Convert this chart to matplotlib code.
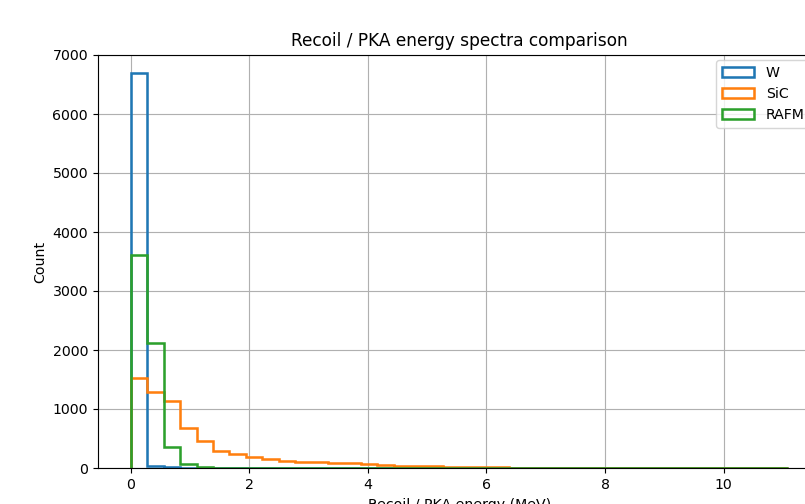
import numpy as np
import matplotlib
matplotlib.use("Agg")
import matplotlib.pyplot as plt

# 40 bins from 0 to the max recoil energy (MeV)
e_max = 11.09
n_bins = 40

w_counts = [6690, 32, 12, 3] + [0] * 36

sic_counts = [1520, 1280, 1130, 680, 450, 295, 245, 190, 150, 120,
              100, 95, 88, 82, 76, 45, 40, 32, 28, 18,
              15, 12, 10, 8, 6, 5, 4, 3, 3, 2,
              2, 2, 1, 1, 1, 1, 1, 0, 0, 0]

rafm_counts = [3610, 2120, 350, 65, 14, 6, 5, 4, 4, 3,
               3, 3, 3, 3, 3, 3, 3, 3, 3, 3,
               3, 3, 3, 3, 4, 4, 4, 3, 3, 3,
               3, 3, 4, 4, 4, 4, 4, 3, 3, 0]

labels = ["W", "SiC", "RAFM"]

edges = np.linspace(0, e_max, n_bins + 1)
centers = 0.5 * (edges[:-1] + edges[1:])

dpi = 102
fig = plt.figure(figsize=(805 / dpi, 504 / dpi), dpi=dpi)
ax = fig.add_axes([98 / 805, 36 / 504, 723 / 805, 413 / 504])

for counts, lab in zip([w_counts, sic_counts, rafm_counts], labels):
    ax.hist(centers, bins=edges, weights=counts, histtype="step", linewidth=1.8, label=lab)

ax.set_ylim(0, 7000)
ax.set_xlabel("Recoil / PKA energy (MeV)")
ax.set_ylabel("Count")
ax.set_title("Recoil / PKA energy spectra comparison")
ax.grid(True)
ax.legend(loc="upper right", bbox_to_anchor=(0.995, 1.004), handlelength=2.3)

fig.savefig("out.png", dpi=dpi)
